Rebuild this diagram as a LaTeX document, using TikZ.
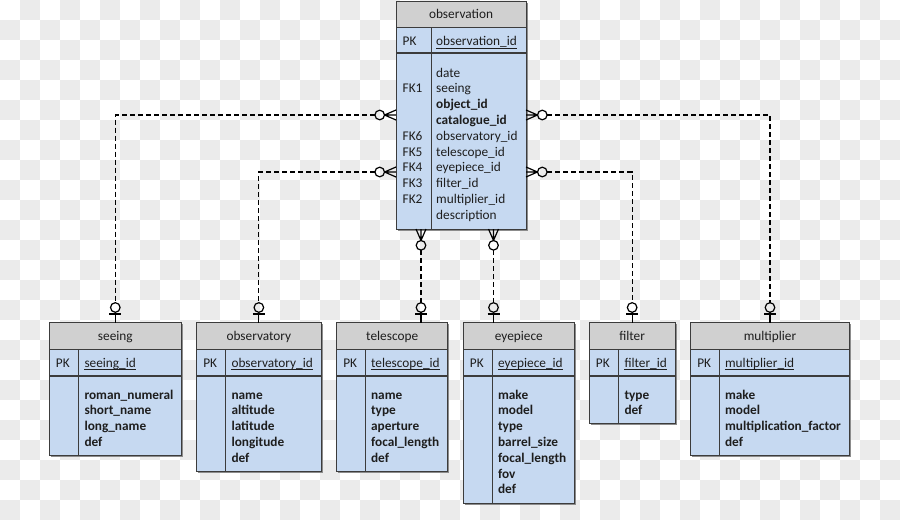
\documentclass[tikz,border=0pt]{standalone}
\usepackage{fontspec}
\setmainfont{Carlito}
\usetikzlibrary{calc}
\definecolor{chk}{HTML}{EBEBEB}
\definecolor{hdr}{HTML}{D0D0D0}
\definecolor{bodyc}{HTML}{C6D9F1}
\definecolor{brd}{HTML}{3C3C3C}
\definecolor{txt}{HTML}{1E1E1E}
\tikzset{
 tbl/.style={rectangle, fill=bodyc, inner sep=0pt, outer sep=0pt, anchor=north west},
 tline/.style={draw=brd, line width=0.8pt},
 pkline/.style={draw=brd, line width=1.8pt},
 brdline/.style={draw=brd, line width=1pt},
 shad/.style={fill=black!45},
 lbl/.style={inner sep=0pt, text=txt, font=\fontsize{13.3}{15.8}\selectfont},
 ttl/.style={lbl, anchor=base},
 fld/.style={lbl, anchor=base west},
 bfld/.style={fld, font=\fontsize{13.3}{15.8}\selectfont\bfseries},
 conn/.style={draw=black, line width=1.2pt, dash pattern=on 5pt off 3pt, shorten <=21.3pt, shorten >=20pt},
 foot/.style={draw=black, line width=1.2pt},
 ul/.style={draw=txt, line width=0.7pt},
}
% name, x1, x2, ytop, ybottom, divider x, header bottom, pk bottom
\newcommand\ertbl[8]{%
 \fill[shad] (#2+1.5,#4+1.5) rectangle (#3+1.5,#5+1.5);
 \node[tbl, minimum width={(#3-#2)*1pt}, minimum height={(#5-#4)*1pt}] (#1) at (#2,#4) {};
 \fill[hdr] (#1.north west) rectangle (#3,#7);
 \draw[tline] (#2,#7) -- (#3,#7);
 \draw[tline] (#6,#7) -- (#6,#5);
 \draw[pkline] (#2,#8) -- (#3,#8);
 \draw[brdline] (#1.north west) rectangle (#1.south east);
}
\newcommand\crowL[1]{%
 \draw[foot] (#1) ++(-11.5,0) -- ++(11.5,-5) (#1) ++(-11.5,0) -- (#1) (#1) ++(-11.5,0) -- ++(11.5,5);
 \draw[foot] (#1) ++(-16.3,0) circle[radius=4.8pt];}
\newcommand\crowR[1]{%
 \draw[foot] (#1) ++(11.5,0) -- ++(-11.5,-5) (#1) ++(11.5,0) -- (#1) (#1) ++(11.5,0) -- ++(-11.5,5);
 \draw[foot] (#1) ++(16.3,0) circle[radius=4.8pt];}
\newcommand\crowB[1]{%
 \draw[foot] (#1) ++(0,11.5) -- ++(-5,-11.5) (#1) ++(0,11.5) -- (#1) (#1) ++(0,11.5) -- ++(5,-11.5);
 \draw[foot] (#1) ++(0,16.3) circle[radius=4.8pt];}
\newcommand\oneend[1]{%
 \draw[foot] (#1) -- ++(0,-10.4);
 \draw[foot] (#1) ++(-6,-8.7) -- ++(12,0);
 \draw[foot] (#1) ++(0,-15.2) circle[radius=4.8pt];}
\newcommand\pkfield[4]{% name, x, y, text
 \node[fld] (#1) at (#2,#3) {#4};
 \draw[ul] ([yshift=-2.6pt]#1.base west) -- ([yshift=-2.6pt]#1.base east);}
\begin{document}
\begin{tikzpicture}[x=1pt,y=-1pt]
\useasboundingbox (0,0) rectangle (900,520);
\fill[white] (0,0) rectangle (900,520);
\foreach \i in {0,...,44}{\foreach \j in {0,...,25}{\ifodd\numexpr\i+\j\relax \fill[chk] (\i*20,\j*20) rectangle ++(20,20);\fi}}

% tables
\ertbl{obs}{396}{526}{1.5}{229}{431}{27.7}{52.7}
\ertbl{seeing}{49.3}{181.3}{322.7}{455.7}{78.7}{349.3}{376}
\ertbl{observatory}{196.7}{321}{322.7}{471.7}{225.7}{349.3}{376}
\ertbl{telescope}{336.7}{447.7}{322.7}{471.7}{365.3}{349.3}{376}
\ertbl{eyepiece}{463.3}{574.3}{322.7}{503.3}{492.3}{349.3}{376}
\ertbl{filter}{589.3}{675}{322.7}{423.3}{618.7}{349.3}{376}
\ertbl{multiplier}{690.7}{849.3}{322.7}{455.7}{719.3}{349.3}{376}

% observation texts
\node[ttl] (obsT) at (461,18) {observation};
\node[fld] (obsPK) at (402.5,45.7) {PK};
\pkfield{obsPKf}{436}{45.7}{observation\_id}
\foreach \t [count=\k from 0] in {date, seeing, \textbf{object\_id}, \textbf{catalogue\_id}, observatory\_id, telescope\_id, eyepiece\_id, filter\_id, multiplier\_id, description}
  \node[fld] (obs-b\k) at (436,77+15.8*\k) {\t};
\foreach \t/\k in {FK1/1, FK6/4, FK5/5, FK4/6, FK3/7, FK2/8}
  \node[fld] (obs-fk\k) at (402.5,77+15.8*\k) {\t};

% seeing
\node[ttl] (seeingT) at (115.3,340) {seeing};
\node[fld] (seeingPK) at (55.7,367) {PK};
\pkfield{seeingPKf}{84.3}{367}{seeing\_id}
\foreach \t [count=\k from 0] in {roman\_numeral, short\_name, long\_name, def}
  \node[bfld] (seeing-b\k) at (84.3,399+15.8*\k) {\t};

% observatory
\node[ttl] (observatoryT) at (258.85,340) {observatory};
\node[fld] (observatoryPK) at (203.1,367) {PK};
\pkfield{observatoryPKf}{231.3}{367}{observatory\_id}
\foreach \t [count=\k from 0] in {name, altitude, latitude, longitude, def}
  \node[bfld] (observatory-b\k) at (231.3,399+15.8*\k) {\t};

% telescope
\node[ttl] (telescopeT) at (392.2,340) {telescope};
\node[fld] (telescopePK) at (343.1,367) {PK};
\pkfield{telescopePKf}{370.9}{367}{telescope\_id}
\foreach \t [count=\k from 0] in {name, type, aperture, focal\_length, def}
  \node[bfld] (telescope-b\k) at (370.9,399+15.8*\k) {\t};

% eyepiece
\node[ttl] (eyepieceT) at (518.8,340) {eyepiece};
\node[fld] (eyepiecePK) at (469.7,367) {PK};
\pkfield{eyepiecePKf}{497.9}{367}{eyepiece\_id}
\foreach \t [count=\k from 0] in {make, model, type, barrel\_size, focal\_length, fov, def}
  \node[bfld] (eyepiece-b\k) at (497.9,399+15.8*\k) {\t};

% filter
\node[ttl] (filterT) at (632.15,340) {filter};
\node[fld] (filterPK) at (595.7,367) {PK};
\pkfield{filterPKf}{624.3}{367}{filter\_id}
\foreach \t [count=\k from 0] in {type, def}
  \node[bfld] (filter-b\k) at (624.3,399+15.8*\k) {\t};

% multiplier
\node[ttl] (multiplierT) at (770,340) {multiplier};
\node[fld] (multiplierPK) at (697.1,367) {PK};
\pkfield{multiplierPKf}{724.9}{367}{multiplier\_id}
\foreach \t [count=\k from 0] in {make, model, multiplication\_factor, def}
  \node[bfld] (multiplier-b\k) at (724.9,399+15.8*\k) {\t};

% connector anchor points on observation
\path (obs.north west) ++(0,113.5) coordinate (oL1);
\path (obs.north west) ++(0,170.5) coordinate (oL2);
\path (obs.north east) ++(0,113.5) coordinate (oR1);
\path (obs.north east) ++(0,170.5) coordinate (oR2);
\path (obs.south west) ++(25,0) coordinate (oB1);
\path (obs.south west) ++(97.5,0) coordinate (oB2);

% connectors
\draw[conn] (oL1) -| (seeing.north);
\draw[conn] (oL2) -| (observatory.north);
\draw[conn] (oR1) -| (multiplier.north);
\draw[conn] (oR2) -| (filter.north);
\draw[conn] (oB1) -- (oB1 |- telescope.north);
\draw[conn] (oB2) -- (oB2 |- eyepiece.north);

\crowL{oL1}
\crowL{oL2}
\crowR{oR1}
\crowR{oR2}
\crowB{oB1}
\crowB{oB2}
\oneend{seeing.north}
\oneend{observatory.north}
\oneend{multiplier.north}
\oneend{filter.north}
\oneend{oB1 |- telescope.north}
\oneend{oB2 |- eyepiece.north}
\end{tikzpicture}
\end{document}
